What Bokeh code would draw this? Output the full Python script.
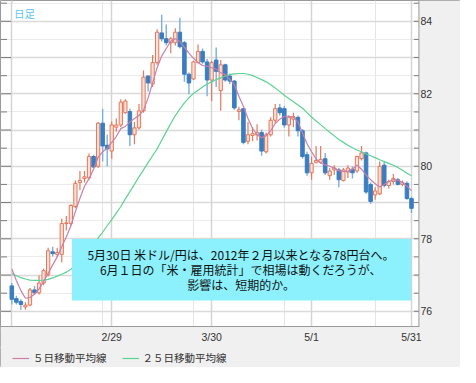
import pandas as pd
from bokeh.plotting import figure
from bokeh.models import (ColumnDataSource, Range1d, FixedTicker,
                          SingleIntervalTicker, BoxAnnotation, Label, Legend,
                          LegendItem, Grid)
from bokeh.embed import file_html
from bokeh.resources import INLINE

# ---------------- data (USD/JPY daily) ----------------
dates = pd.bdate_range("2012-01-30", "2012-05-31")

opens = [76.70, 76.35, 76.27, 76.12, 76.17, 76.59, 76.51, 76.78, 77.01, 77.64,
         77.57, 77.57, 78.42, 78.42, 78.89, 79.55, 79.66, 79.68, 80.27, 80.00,
         81.19, 80.58, 80.42, 81.08, 81.14, 81.48, 81.51, 80.87, 81.06, 81.53,
         82.49, 82.27, 82.86, 83.68, 83.52, 83.41, 83.41, 83.70, 83.41, 82.54,
         82.41, 82.86, 83.17, 82.88, 82.38, 82.93, 82.09, 82.80, 82.49, 82.35,
         81.51, 81.59, 80.69, 80.85, 80.87, 80.93, 80.40, 80.87, 81.27, 81.61,
         81.59, 81.14, 81.30, 81.35, 80.98, 80.32, 79.82, 80.11, 80.11, 80.21,
         79.74, 79.90, 79.90, 79.61, 79.84, 79.92, 79.87, 80.21, 80.37, 79.50,
         79.21, 79.24, 80.03, 79.47, 79.58, 79.63, 79.50, 79.53, 79.11]

highs = [76.78, 76.43, 76.33, 76.25, 76.64, 76.70, 76.99, 77.17, 77.75, 77.78,
         77.75, 78.55, 78.63, 78.95, 79.61, 79.87, 79.87, 80.35, 80.32, 81.22,
         81.59, 80.87, 81.24, 81.32, 81.85, 81.85, 81.59, 81.22, 81.72, 82.64,
         82.51, 83.07, 83.78, 84.18, 83.91, 83.57, 83.81, 84.10, 83.46, 82.59,
         82.91, 83.36, 83.25, 82.96, 82.91, 83.28, 82.93, 82.83, 82.56, 82.38,
         81.64, 81.61, 81.22, 81.08, 81.16, 81.01, 80.93, 81.35, 81.72, 81.72,
         81.67, 81.40, 81.48, 81.40, 81.03, 80.40, 80.27, 80.56, 80.56, 80.37,
         79.95, 80.03, 79.95, 79.95, 80.03, 80.00, 80.29, 80.56, 80.40, 79.55,
         79.42, 80.13, 80.13, 79.63, 79.79, 79.68, 79.61, 79.58, 79.16]

lows = [76.19, 76.19, 76.04, 76.04, 76.14, 76.46, 76.46, 76.72, 76.96, 77.51,
        77.49, 77.35, 78.23, 78.36, 78.84, 79.34, 79.55, 79.63, 79.95, 79.95,
        80.13, 80.00, 80.21, 80.95, 81.08, 81.45, 80.56, 80.61, 81.01, 81.48,
        82.06, 82.19, 82.80, 83.44, 83.33, 83.12, 83.33, 83.25, 82.33, 81.98,
        82.38, 82.86, 82.83, 81.93, 81.80, 82.19, 81.53, 82.33, 82.27, 81.56,
        81.27, 80.61, 80.61, 80.69, 80.71, 80.29, 80.35, 80.82, 81.19, 81.40,
        81.06, 80.82, 81.08, 80.82, 80.21, 79.74, 79.63, 80.08, 80.08, 79.76,
        79.63, 79.76, 79.42, 79.58, 79.68, 79.66, 79.82, 80.16, 79.24, 78.97,
        79.08, 79.21, 79.42, 79.39, 79.50, 79.47, 79.45, 79.08, 78.71]

closes = [76.33, 76.25, 76.19, 76.17, 76.59, 76.51, 76.78, 77.12, 77.67, 77.59,
          77.62, 78.42, 78.44, 78.92, 79.53, 79.61, 79.71, 80.27, 79.98, 81.19,
          80.56, 80.48, 81.14, 81.14, 81.77, 81.80, 80.87, 81.06, 81.53, 82.46,
          82.30, 82.86, 83.70, 83.52, 83.41, 83.52, 83.70, 83.30, 82.54, 82.30,
          82.88, 83.17, 82.88, 82.38, 82.86, 82.62, 82.80, 82.38, 82.35, 81.61,
          81.56, 80.66, 80.87, 80.90, 80.93, 80.42, 80.87, 81.27, 81.59, 81.48,
          81.14, 81.35, 81.37, 80.98, 80.27, 79.82, 80.08, 80.16, 80.19, 79.82,
          79.87, 79.95, 79.63, 79.90, 79.95, 79.82, 80.27, 80.37, 79.29, 79.03,
          79.32, 80.00, 79.47, 79.58, 79.66, 79.50, 79.55, 79.11, 78.84]

ma5 = [77.17, 76.85, 76.57, 76.36, 76.38, 76.47, 76.62, 76.82, 77.05, 77.28,
       77.50, 77.78, 78.05, 78.36, 78.75, 79.12, 79.45, 79.66, 79.92, 80.25,
       80.40, 80.50, 80.66, 80.82, 81.04, 81.10, 81.22, 81.32, 81.40, 81.55,
       81.88, 82.30, 82.72, 83.04, 83.25, 83.45, 83.52, 83.44, 83.28, 83.12,
       82.98, 82.86, 82.78, 82.76, 82.72, 82.68, 82.58, 82.53, 82.40, 82.25,
       81.93, 81.65, 81.32, 81.05, 80.87, 80.79, 80.84, 80.98, 81.18, 81.30,
       81.38, 81.38, 81.35, 81.22, 80.92, 80.62, 80.40, 80.20, 80.09, 80.04,
       80.00, 79.95, 79.88, 79.86, 79.86, 79.92, 80.03, 79.92, 79.76, 79.63,
       79.52, 79.43, 79.50, 79.58, 79.63, 79.62, 79.55, 79.45, 79.33]

ma25 = [77.04, 76.98, 76.93, 76.89, 76.86, 76.85, 76.85, 76.86, 76.88, 76.92,
        76.97, 77.02, 77.08, 77.16, 77.27, 77.40, 77.55, 77.70, 77.86, 78.02,
        78.18, 78.36, 78.53, 78.71, 78.89, 79.10, 79.30, 79.50, 79.71, 79.90,
        80.10, 80.29, 80.48, 80.72, 80.95, 81.18, 81.40, 81.58, 81.75, 81.89,
        82.01, 82.10, 82.19, 82.27, 82.33, 82.39, 82.44, 82.49, 82.53, 82.55,
        82.56, 82.56, 82.54, 82.50, 82.45, 82.39, 82.33, 82.25, 82.16, 82.06,
        81.96, 81.87, 81.78, 81.69, 81.60, 81.48, 81.36, 81.25, 81.15, 81.04,
        80.94, 80.84, 80.74, 80.66, 80.58, 80.51, 80.45, 80.40, 80.34, 80.29,
        80.24, 80.18, 80.13, 80.08, 80.03, 79.97, 79.89, 79.81, 79.74]

grid_dates = ["2012-01-30", "2012-02-29", "2012-03-30", "2012-05-01", "2012-05-31"]
grid_labels = ["", "2/29", "3/30", "5/1", "5/31"]

y_labeled = [76, 78, 80, 82, 84]
y_whole = [76, 77, 78, 79, 80, 81, 82, 83, 84]
y_half = [76.5, 77.5, 78.5, 79.5, 80.5, 81.5, 82.5, 83.5, 84.5]

legend_labels = ["５日移動平均線", "２５日移動平均線"]
title_text = "日足"
note_lines = ["5月30日 米ドル/円は、2012年２月以来となる78円台へ。",
              "6月１日の「米・雇用統計」で相場は動くだろうが、",
              "影響は、短期的か。"]

# ---------------- styles / layout ----------------
UP_LINE = "#e4785c"
UP_FILL = "#fbe0d5"
DN_BODY = "#3a7dc1"
DN_WICK = "#78afe0"
MA5_COLOR = "#c97fa9"
MA25_COLOR = "#5cd394"
BOX_COLOR = "#8cf1fd"
PANEL = "#f0f0f0"
EDGE = "#9a9a9a"
TICK = "#7a7a7a"
JP_FONT = "Noto Sans CJK JP"
NUM_FONT = "Liberation Sans"

W, H = 460, 367
PLOT_RIGHT = 418.4      # x of the chart's right edge (px from left)
BOTTOM_PANEL = 41       # height of the lower grey strip (px)
X_START, X_END = -2.49, 98.79
Y_START, Y_END = 74.449, 84.574

# ---------------- build ----------------
date_keys = [d.strftime("%Y-%m-%d") for d in dates]
idx = list(range(len(dates)))
grid_idx = [date_keys.index(d) for d in grid_dates]

up = [i for i in idx if closes[i] >= opens[i]]
dn = [i for i in idx if closes[i] < opens[i]]

def src(sel):
    return ColumnDataSource(dict(
        x=[idx[i] for i in sel],
        high=[highs[i] for i in sel],
        low=[lows[i] for i in sel],
        top=[max(opens[i], closes[i]) for i in sel],
        bottom=[min(opens[i], closes[i]) for i in sel],
    ))

src_up = src(up)
src_dn = src(dn)

p = figure(width=W, height=H, output_backend="svg", toolbar_location=None,
           x_range=Range1d(X_START, X_END), y_range=Range1d(Y_START, Y_END),
           x_axis_location=None, y_axis_location=None,
           min_border_left=0, min_border_right=0, min_border_top=0,
           min_border_bottom=0)
p.background_fill_color = "white"
p.border_fill_color = PANEL
p.outline_line_color = EDGE
p.outline_line_width = 1

# grids
ygrid = Grid(dimension=1, ticker=SingleIntervalTicker(interval=1, num_minor_ticks=2),
             grid_line_color="#dadada", grid_line_width=1.5,
             minor_grid_line_color="#ececec", minor_grid_line_width=1)
xgrid = Grid(dimension=0, ticker=FixedTicker(ticks=grid_idx),
             grid_line_color="#d4d4d4", grid_line_width=1.5)
p.add_layout(ygrid)
p.add_layout(xgrid)

# tick marks on the chart edges (dash markers centred on the edge lines)
px_per_x = W / (X_END - X_START)
x_left_edge = X_START
x_right_edge = X_START + PLOT_RIGHT / px_per_x
p.scatter([x_right_edge] * (len(y_whole) + len(y_half)), y_whole + y_half,
          marker="dash", size=10, line_color=TICK, line_width=1)
p.scatter([x_left_edge] * len(y_whole), y_whole, marker="dash", size=21,
          line_color=TICK, line_width=1)
p.scatter([x_left_edge] * len(y_half), y_half, marker="dash", size=13,
          line_color=TICK, line_width=1)

# candles
p.segment(x0="x", y0="low", x1="x", y1="high", source=src_up,
          line_color=UP_LINE, line_width=1.2)
p.segment(x0="x", y0="low", x1="x", y1="high", source=src_dn,
          line_color=DN_WICK, line_width=1.4)
p.vbar(x="x", width=0.72, top="top", bottom="bottom", source=src_up,
       fill_color=UP_FILL, line_color=UP_LINE, line_width=1)
p.vbar(x="x", width=0.78, top="top", bottom="bottom", source=src_dn,
       fill_color=DN_BODY, line_color=DN_BODY, line_width=1)

# moving averages
r25 = p.line(idx, ma25, line_color=MA25_COLOR, line_width=1.2)
r5 = p.line(idx, ma5, line_color=MA5_COLOR, line_width=1.2)

# grey panels (right: price scale, bottom: dates and legend) and edge lines
def sbox(left, right, bottom, top, color):
    return BoxAnnotation(left=left, right=right, bottom=bottom, top=top,
                         left_units="screen", right_units="screen",
                         top_units="screen", bottom_units="screen",
                         fill_color=color, fill_alpha=1.0, line_color=None)

p.add_layout(sbox(PLOT_RIGHT, W, 0, H, PANEL))
p.add_layout(sbox(0, W, 0, BOTTOM_PANEL, PANEL))
p.add_layout(sbox(PLOT_RIGHT - 0.5, PLOT_RIGHT + 0.5, BOTTOM_PANEL, H, EDGE))
p.add_layout(sbox(0, PLOT_RIGHT + 0.5, BOTTOM_PANEL - 0.5, BOTTOM_PANEL + 0.5, EDGE))

# price labels
for v in y_labeled:
    p.add_layout(Label(x=PLOT_RIGHT + 1.5, y=v, x_units="screen", y_units="data",
                       text=str(v), text_align="left", text_baseline="middle",
                       text_font=NUM_FONT, text_font_size="10.5px",
                       text_color="#333333"))

# date labels
for gi, lab in zip(grid_idx, grid_labels):
    if lab:
        p.add_layout(Label(x=gi, y=BOTTOM_PANEL - 10.5, x_units="data", y_units="screen",
                           text=lab, text_align="center", text_baseline="middle",
                           text_font=NUM_FONT, text_font_size="10.5px",
                           text_color="#333333"))

legend = Legend(items=[LegendItem(label=legend_labels[0], renderers=[r5]),
                       LegendItem(label=legend_labels[1], renderers=[r25])],
                orientation="horizontal", location=(12, 2),
                label_text_font=JP_FONT, label_text_font_size="10.5px",
                label_text_color="#333333", glyph_width=17, glyph_height=14,
                label_height=14, label_standoff=4, spacing=15, padding=2, margin=0,
                background_fill_alpha=0, border_line_color=None)
p.add_layout(legend)

# annotation box with the note
p.add_layout(sbox(71.5, 410.7, 67.1, 128.4, BOX_COLOR))

for k, line in enumerate(note_lines):
    p.add_layout(Label(x=240.6, y=113.1 - 14.85 * k, x_units="screen", y_units="screen",
                       text=line, text_align="center", text_baseline="middle",
                       text_font=JP_FONT, text_font_size="12px", text_color="#111111"))

p.add_layout(Label(x=13.5, y=H - 5, x_units="screen", y_units="screen", text=title_text,
                   text_align="left", text_baseline="top", text_font=JP_FONT,
                   text_font_size="10.5px", text_color="#5bc6ef"))

open("out.html", "w", encoding="utf-8").write(file_html(p, INLINE))
